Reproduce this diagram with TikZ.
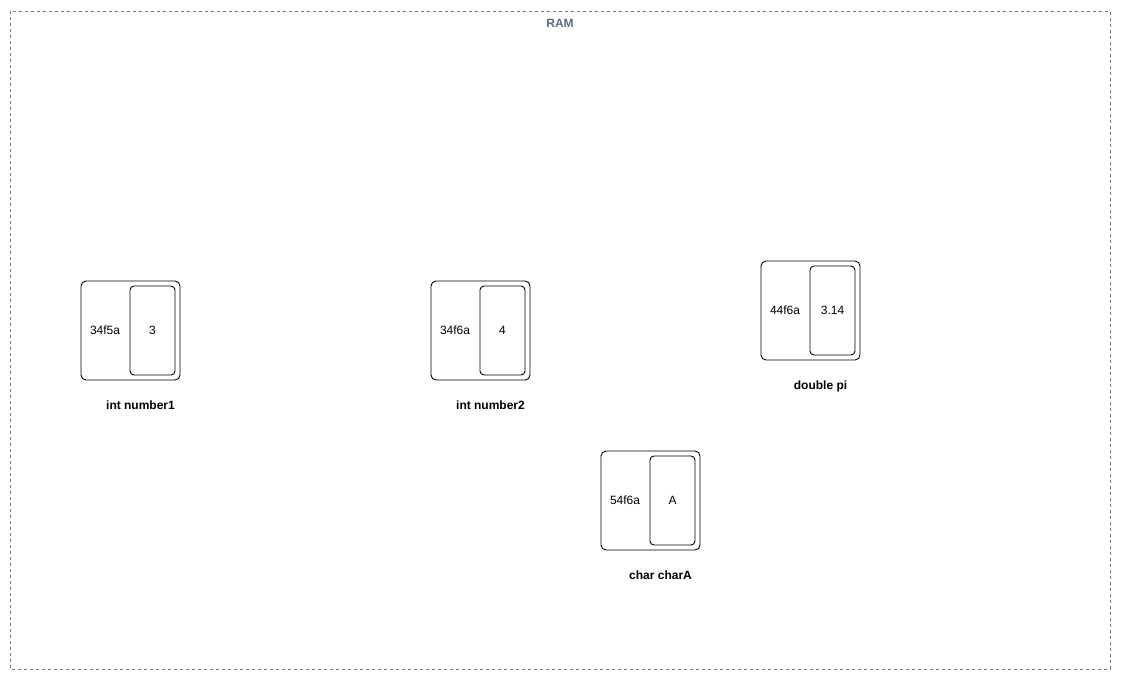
\documentclass[tikz,border=0pt]{standalone}
\usepackage{fontspec}
\setmainfont{Liberation Sans}
\usetikzlibrary{positioning,calc}
\definecolor{ramgray}{RGB}{120,120,120}
\definecolor{ramtitle}{RGB}{90,105,135}
\newcommand\cellsize{99pt}

\begin{document}
\begin{tikzpicture}[x=1pt,y=-1pt,line width=0.9pt,
  font=\fontsize{12}{14}\selectfont,
  ram/.style={draw=ramgray,line width=0.8pt,dash pattern=on 3pt off 3pt},
  memcell/.style={draw,rounded corners=5pt,minimum width=\cellsize,minimum height=\cellsize,inner sep=0pt},
  valcell/.style={draw,rounded corners=4pt,minimum width=45pt,minimum height=89pt,inner sep=0pt},
  varname/.style={font=\fontsize{12}{14}\selectfont\bfseries}]
\useasboundingbox (0,0) rectangle (1121,681);
\draw[ram] (10,11) rectangle (1110,669);
\node[text=ramtitle,font=\fontsize{12}{14}\selectfont\bfseries] (ramlabel) at (560,23) {RAM};
% one memory cell per variable
\foreach \cx/\cy/\addr/\val/\cname/\vname in {
  130.5/330.5/34f5a/3/numA/int number1,
  480.5/330.5/34f6a/4/numB/int number2,
  810.5/310.5/44f6a/3.14/pi/double pi,
  650.5/500.5/54f6a/A/charA/char charA}{
  \node[memcell] (\cname) at (\cx,\cy) {};
  \node[valcell,left=5pt of \cname.east] (\cname val) {\val};
  \node (\cname addr) at ($(\cname.west)!0.5!(\cname val.west)$) {\addr};
  \node[varname,below=17pt of \cname,xshift=10pt] (\cname name) {\vname};
}
\end{tikzpicture}
\end{document}
